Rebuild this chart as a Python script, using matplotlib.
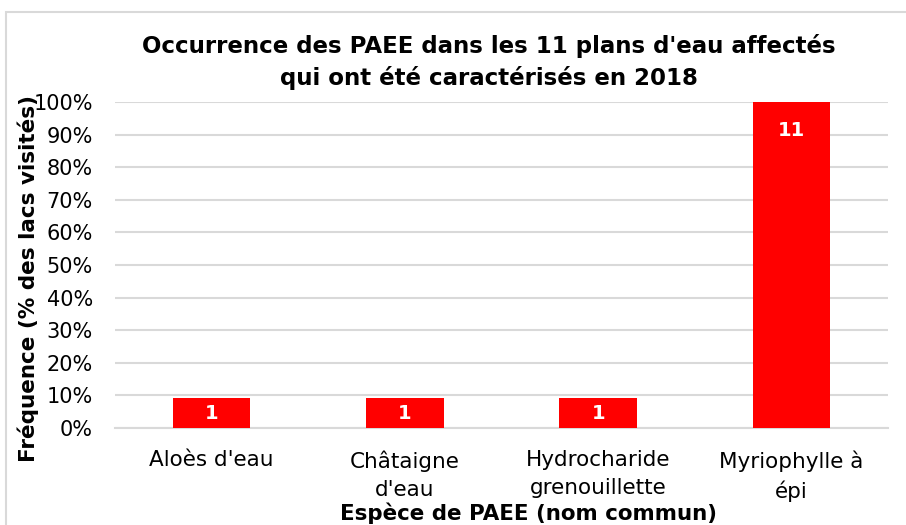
import matplotlib
matplotlib.use("Agg")
import matplotlib.pyplot as plt
from matplotlib.patches import Rectangle
from matplotlib.ticker import FuncFormatter

categories = ["Aloès d'eau", "Châtaigne\nd'eau", "Hydrocharide\ngrenouillette", "Myriophylle à\népi"]
frequency = [9.09, 9.09, 9.09, 100.0]
counts = ["1", "1", "1", "11"]
yticks = [0, 10, 20, 30, 40, 50, 60, 70, 80, 90, 100]

title = "Occurrence des PAEE dans les 11 plans d'eau affectés\nqui ont été caractérisés en 2018"
xlabel = "Espèce de PAEE (nom commun)"
ylabel = "Fréquence (% des lacs visités)"

plt.rcParams['font.family'] = ['DejaVu Sans']

W, H = 906, 525
fig = plt.figure(figsize=(W / 100, H / 100), dpi=100)
fig.patches.append(Rectangle((6 / W, -0.1), 1.2, 1 - 12 / H + 0.1, transform=fig.transFigure,
                             fill=False, edgecolor="#d9d9d9", linewidth=1.5))

ax = fig.add_axes([115 / W, 1 - 428 / H, (888 - 115) / W, (428 - 102) / H])
x = range(len(categories))
bars = ax.bar(x, frequency, width=0.4, color="#ff0000", zorder=3)
ax.set_xlim(-0.5, len(categories) - 0.5)
ax.set_ylim(0, 100)
ax.set_yticks(yticks)
ax.yaxis.set_major_formatter(FuncFormatter(lambda v, p: f"{int(v)}%"))
ax.grid(axis="y", color="#d9d9d9", linewidth=1.5, zorder=0)
for s in ["top", "right", "left"]:
    ax.spines[s].set_visible(False)
ax.spines["bottom"].set_color("#d9d9d9")
ax.spines["bottom"].set_linewidth(1.5)
ax.tick_params(axis="both", length=0, colors="#000000")
ax.tick_params(axis="y", pad=16, labelsize=15)
ax.tick_params(axis="x", pad=16, labelsize=15.5)
ax.set_xticks(list(x))
ax.set_xticklabels(categories, linespacing=1.5)

for xi, v, c in zip(x, frequency, counts):
    if v < 20:
        ax.text(xi, v / 2, c, ha="center", va="center", color="white", fontsize=14, fontweight="bold", zorder=4)
    else:
        ax.annotate(c, (xi, v), xytext=(0, -29), textcoords="offset pixels", ha="center", va="center",
                    color="white", fontsize=14, fontweight="bold", zorder=4)

fig.text(489 / W, 1 - 62 / H, title, ha="center", va="center", fontsize=16.5, fontweight="bold", linespacing=1.45)
fig.text(528 / W, 1 - 513 / H, xlabel, ha="center", va="center", fontsize=15.4, fontweight="bold")
fig.text(28 / W, 1 - 278 / H, ylabel, ha="center", va="center", rotation=90, fontsize=15.5, fontweight="bold")

fig.savefig("out.png", dpi=100)
